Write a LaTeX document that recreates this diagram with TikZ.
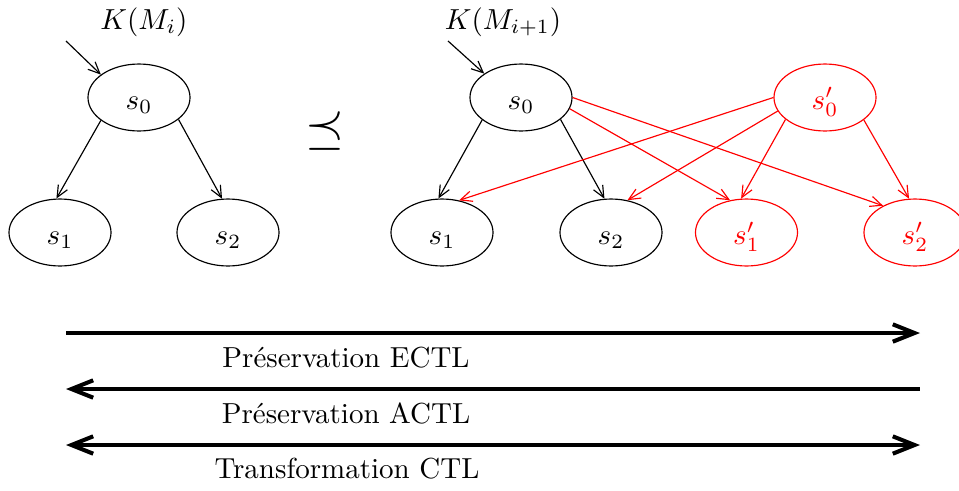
\documentclass[tikz,border=0pt]{standalone}
\usetikzlibrary{arrows.meta,shapes.geometric}

\tikzset{
  state/.style={ellipse, draw, line width=0.4pt, minimum width=35.2pt,
                minimum height=23.1pt, inner sep=0pt,
                text height=8pt, text depth=0pt},
  newstate/.style={state, draw=red, text=red},
  thinhead/.tip={Straight Barb[length=4pt,width=3.6pt]},
  bighead/.tip={Straight Barb[length=7.5pt,width=6pt]},
  edge/.style={line width=0.4pt, -{thinhead}},
  newedge/.style={edge, draw=red},
  bigarrow/.style={line width=1.4pt},
  caption/.style={inner sep=0pt}
}

\begin{document}
\begin{tikzpicture}[x=0.345pt, y=-0.345pt]
  \useasboundingbox (0,0) rectangle (959,490);

  % left structure K(M_i)
  \node[state] (a0) at (139,97.5) {$s_0$};
  \node[state] (a1) at (60,232.5) {$s_1$};
  \node[state] (a2) at (228,232.5) {$s_2$};
  \node[caption] (ka) at (144,22) {$K(M_i)$};
  \coordinate (ia) at (66,41);
  \draw[edge] (ia) -- (a0.149);
  \draw[edge] (a0.211) -- (a1.96);
  \draw[edge] (a0.-29) -- (a2.100);

  % ordering symbol
  \node[caption] (rel) at (325,131) {\LARGE$\preceq$};

  % right structure K(M_{i+1})
  \node[state] (b0) at (521,97.5) {$s_0$};
  \node[state] (b1) at (442,232.5) {$s_1$};
  \node[state] (b2) at (611,232.5) {$s_2$};
  \node[newstate] (c0) at (825,97.5) {$s'_0$};
  \node[newstate] (c1) at (746.5,232.5) {$s'_1$};
  \node[newstate] (c2) at (915,232.5) {$s'_2$};
  \node[caption] (kb) at (503,22) {$K(M_{i+1})$};
  \coordinate (ib) at (448,41);
  \draw[edge] (ib) -- (b0.147);
  \draw[edge] (b0.210) -- (b1.96);
  \draw[edge] (b0.-29) -- (b2.101);

  \draw[newedge] (b0.east) -- (c2.140);
  \draw[newedge] (b0.-13) -- (c1.117);
  \draw[newedge] (c0.west) -- (b1.62);
  \draw[newedge] (c0.196) -- (b2.63);
  \draw[newedge] (c0.209) -- (c1.99);
  \draw[newedge] (c0.-30) -- (c2.100);

  % preservation arrows
  \coordinate (l1) at (66,333);  \coordinate (r1) at (920,333);
  \coordinate (l2) at (66,389);  \coordinate (r2) at (920,389);
  \coordinate (l3) at (66,445);  \coordinate (r3) at (920,445);
  \draw[bigarrow, -{bighead}] (l1) -- (r1);
  \draw[bigarrow, {bighead}-] (l2) -- (r2);
  \draw[bigarrow, {bighead}-{bighead}] (l3) -- (r3);
  \node[caption] (t1) at (346,358) {Préservation ECTL};
  \node[caption] (t2) at (346,413) {Préservation ACTL};
  \node[caption] (t3) at (347,469) {Transformation CTL};
\end{tikzpicture}
\end{document}
